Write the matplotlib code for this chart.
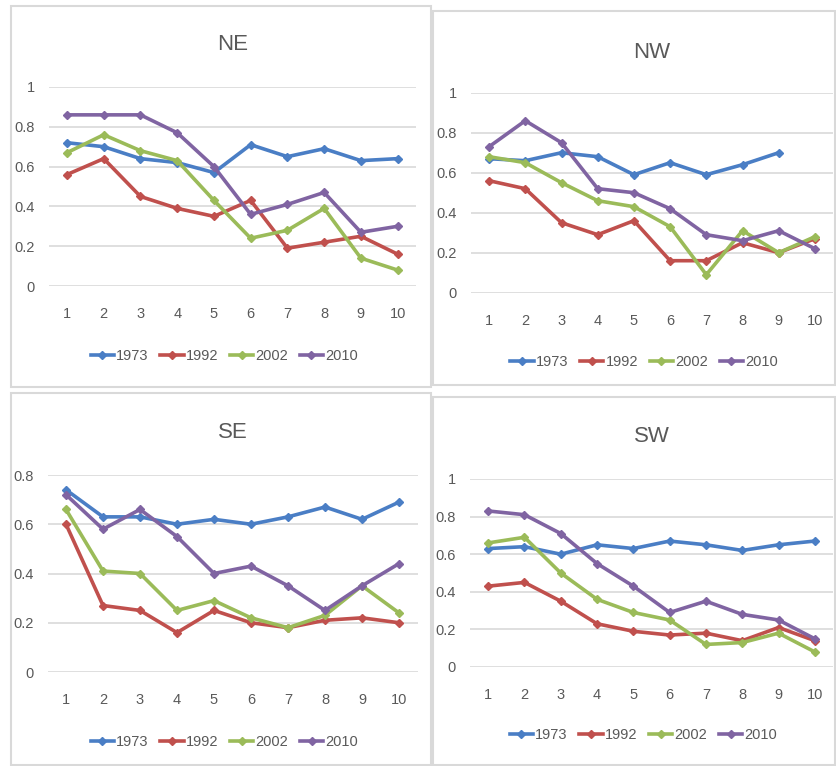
import matplotlib
matplotlib.use("Agg")
import matplotlib.pyplot as plt
from matplotlib.patches import Rectangle

plt.rcParams["font.family"] = ["Liberation Sans", "DejaVu Sans"]

# ─── Data ─────────────────────────────────────────────────────────────────────
X = list(range(1, 11))
YEARS = ["1973", "1992", "2002", "2010"]
COLORS = ["#4A7EC5", "#C0504D", "#9BBB59", "#8064A2"]

NE_1973 = [0.72, 0.70, 0.64, 0.62, 0.57, 0.71, 0.65, 0.69, 0.63, 0.64]
NE_1992 = [0.56, 0.64, 0.45, 0.39, 0.35, 0.43, 0.19, 0.22, 0.25, 0.16]
NE_2002 = [0.67, 0.76, 0.68, 0.63, 0.43, 0.24, 0.28, 0.39, 0.14, 0.08]
NE_2010 = [0.86, 0.86, 0.86, 0.77, 0.60, 0.36, 0.41, 0.47, 0.27, 0.30]

NW_1973 = [0.67, 0.66, 0.70, 0.68, 0.59, 0.65, 0.59, 0.64, 0.70, None]
NW_1992 = [0.56, 0.52, 0.35, 0.29, 0.36, 0.16, 0.16, 0.25, 0.20, 0.27]
NW_2002 = [0.68, 0.65, 0.55, 0.46, 0.43, 0.33, 0.09, 0.31, 0.20, 0.28]
NW_2010 = [0.73, 0.86, 0.75, 0.52, 0.50, 0.42, 0.29, 0.26, 0.31, 0.22]

SE_1973 = [0.74, 0.63, 0.63, 0.60, 0.62, 0.60, 0.63, 0.67, 0.62, 0.69]
SE_1992 = [0.60, 0.27, 0.25, 0.16, 0.25, 0.20, 0.18, 0.21, 0.22, 0.20]
SE_2002 = [0.66, 0.41, 0.40, 0.25, 0.29, 0.22, 0.18, 0.23, 0.35, 0.24]
SE_2010 = [0.72, 0.58, 0.66, 0.55, 0.40, 0.43, 0.35, 0.25, 0.35, 0.44]

SW_1973 = [0.63, 0.64, 0.60, 0.65, 0.63, 0.67, 0.65, 0.62, 0.65, 0.67]
SW_1992 = [0.43, 0.45, 0.35, 0.23, 0.19, 0.17, 0.18, 0.14, 0.21, 0.14]
SW_2002 = [0.66, 0.69, 0.50, 0.36, 0.29, 0.25, 0.12, 0.13, 0.18, 0.08]
SW_2010 = [0.83, 0.81, 0.71, 0.55, 0.43, 0.29, 0.35, 0.28, 0.25, 0.15]

# ─── Layout (pixels) ──────────────────────────────────────────────────────────
W, H = 836, 766
PANELS = [
    # name, series, ymax, axes box (l, t, r, b), frame (l, t, r, b), title y, legend y
    ("NE", [NE_1973, NE_1992, NE_2002, NE_2010], 1.0, (48.6, 87, 416, 286), (11, 6, 431, 387), 45, 356),
    ("NW", [NW_1973, NW_1992, NW_2002, NW_2010], 1.0, (471, 92.7, 833, 292.7), (433, 11, 835, 385), 52, 362),
    ("SE", [SE_1973, SE_1992, SE_2002, SE_2010], 0.8, (47.5, 475, 417.5, 672), (11, 393, 431, 765), 433, 742),
    ("SW", [SW_1973, SW_1992, SW_2002, SW_2010], 1.0, (470, 479, 833, 667), (433, 397, 835, 765), 437, 735),
]


def fx(px):
    return px / W


def fy(py):
    return 1 - py / H


fig = plt.figure(figsize=(W / 100, H / 100), dpi=100)

for name, series, ymax, box, frame, title_y, leg_y in PANELS:
    fl, ft, fr, fb = frame
    fig.patches.append(Rectangle((fx(fl), fy(fb)), fx(fr) - fx(fl), fy(ft) - fy(fb),
                                 transform=fig.transFigure, fill=False,
                                 edgecolor="#D9D9D9", linewidth=1.5))
    l, t, r, b = box
    ax = fig.add_axes([fx(l), fy(b), fx(r) - fx(l), fy(t) - fy(b)])
    for vals, year, color in zip(series, YEARS, COLORS):
        xs = [x for x, v in zip(X, vals) if v is not None]
        ys = [v for v in vals if v is not None]
        ax.plot(xs, ys, "-", color=color, marker="D", markersize=4.5,
                linewidth=2.6, label=year, clip_on=False)

    ax.set_xlim(0.5, 10.5)
    ax.set_ylim(0, ymax)
    ax.set_xticks(X)
    ax.set_xticklabels([str(x) for x in X])
    yt = [round(i * 0.2, 1) for i in range(int(round(ymax / 0.2)) + 1)]
    ax.set_yticks(yt)
    ax.set_yticklabels(["0" if v == 0 else ("1" if v == 1 else f"{v:g}") for v in yt])
    ax.grid(True, axis="y", color="#D9D9D9", linewidth=1.2)
    ax.set_axisbelow(True)
    for s in ax.spines.values():
        s.set_visible(False)
    ax.tick_params(length=0, labelsize=10.5, labelcolor="#595959")
    ax.tick_params(axis="x", pad=15)
    ax.tick_params(axis="y", pad=10)

    fig.text(fx((l + r) / 2), fy(title_y), name, ha="center", va="center",
             fontsize=16, color="#595959")
    ax.legend(loc="center", bbox_to_anchor=(fx((l + r) / 2 - 8), fy(leg_y)),
              bbox_transform=fig.transFigure, ncol=4, frameon=False,
              fontsize=10.5, labelcolor="#595959", handlelength=1.6,
              handletextpad=0.15, columnspacing=0.8, markerscale=1.0)

fig.savefig("out.png", dpi=100, facecolor="white")
